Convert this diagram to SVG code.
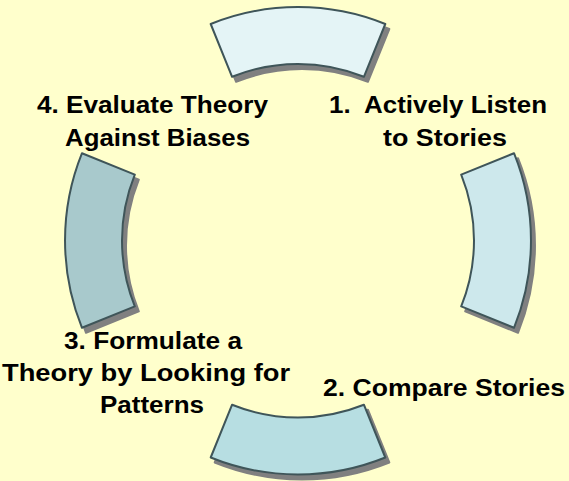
<svg xmlns="http://www.w3.org/2000/svg" width="569" height="481" viewBox="0 0 569 481">
  <style>
    .seg { stroke: #3F5559; stroke-width: 2; stroke-linejoin: round; }
    .shadow { fill: #808080; stroke: #808080; stroke-width: 2; stroke-linejoin: round; }
    .label { font-family: "Liberation Sans", Arial, sans-serif; font-weight: bold; font-size: 23px; fill: #000000; white-space: pre; }
  </style>
  <defs>
    <!-- ring segment centred on the top, radius 233 / 176, +/-22 degrees -->
    <path id="ring-seg" d="M -87.3 -216 A 233 233 0 0 1 87.3 -216 L 65.9 -163.2 A 176 176 0 0 0 -65.9 -163.2 Z"/>
  </defs>

  <rect width="569" height="481" fill="#FFFFCC"/>

  <g id="step1-segment" transform="translate(298 240.5) rotate(90)">
    <use href="#ring-seg" class="shadow" transform="rotate(-90) translate(4 5) rotate(90)"/>
    <use href="#ring-seg" class="seg" fill="#CDE8EC"/>
  </g>
  <g id="step2-segment" transform="translate(298 241.5) rotate(180)">
    <use href="#ring-seg" class="shadow" transform="rotate(-180) translate(4 5) rotate(180)"/>
    <use href="#ring-seg" class="seg" fill="#B7DEE2"/>
  </g>
  <g id="step3-segment" transform="translate(298 240.5) rotate(270)">
    <use href="#ring-seg" class="shadow" transform="rotate(-270) translate(4 5) rotate(270)"/>
    <use href="#ring-seg" class="seg" fill="#A8C9CC"/>
  </g>
  <g id="top-segment" transform="translate(298 240)">
    <use href="#ring-seg" class="shadow" transform="translate(4 5)"/>
    <use href="#ring-seg" class="seg" fill="#E4F4F6"/>
  </g>

  <g id="step1-label">
    <text class="label" x="329" y="113" textLength="218" lengthAdjust="spacingAndGlyphs">1.  Actively Listen</text>
    <text class="label" x="383" y="146" textLength="124" lengthAdjust="spacingAndGlyphs">to Stories</text>
  </g>
  <g id="step2-label">
    <text class="label" x="323" y="396" textLength="242" lengthAdjust="spacingAndGlyphs">2. Compare Stories</text>
  </g>
  <g id="step3-label">
    <text class="label" x="64" y="349" textLength="178" lengthAdjust="spacingAndGlyphs">3. Formulate a</text>
    <text class="label" x="2" y="381" textLength="288" lengthAdjust="spacingAndGlyphs">Theory by Looking for</text>
    <text class="label" x="100" y="413" textLength="104" lengthAdjust="spacingAndGlyphs">Patterns</text>
  </g>
  <g id="step4-label">
    <text class="label" x="37" y="113" textLength="231" lengthAdjust="spacingAndGlyphs">4. Evaluate Theory</text>
    <text class="label" x="65" y="146" textLength="185" lengthAdjust="spacingAndGlyphs">Against Biases</text>
  </g>

  <g id="connectors"/>
</svg>
